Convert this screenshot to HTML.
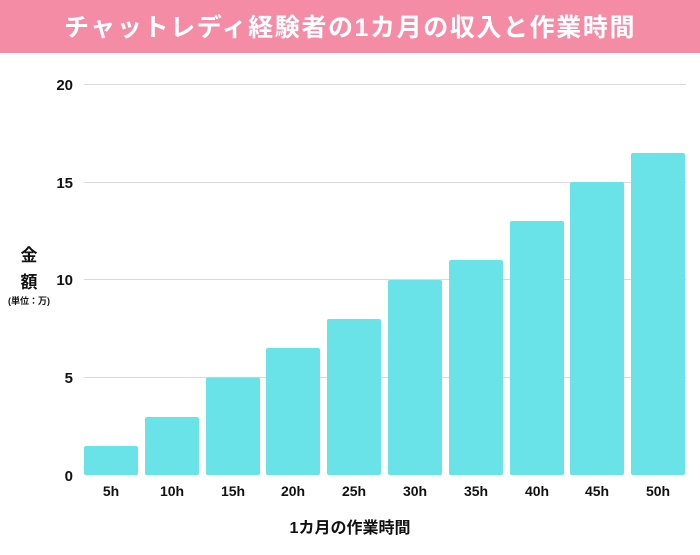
<!DOCTYPE html>
<html><head><meta charset="utf-8"><style>
body{margin:0;width:700px;height:550px;background:#fff;font-family:"Liberation Sans","Noto Sans CJK JP",sans-serif;overflow:hidden}
</style></head><body>
<svg width="700" height="550" xmlns="http://www.w3.org/2000/svg" font-family="Liberation Sans, Noto Sans CJK JP, sans-serif">
<rect x="0" y="0" width="700" height="53" fill="#f48ca6"/>
<text x="350" y="36" text-anchor="middle" font-size="25" font-weight="bold" fill="#fff" letter-spacing="1.6">チャットレディ経験者の1カ月の収入と作業時間</text>
<g stroke="#d9d9d9" stroke-width="1">
<line x1="84" y1="84.5" x2="686" y2="84.5"/>
<line x1="84" y1="182.5" x2="686" y2="182.5"/>
<line x1="84" y1="279.5" x2="686" y2="279.5"/>
<line x1="84" y1="377.5" x2="686" y2="377.5"/>
</g>
<g font-size="15" font-weight="bold" fill="#111" text-anchor="end">
<text x="73" y="90">20</text><text x="73" y="188">15</text><text x="73" y="285">10</text><text x="73" y="383">5</text><text x="73" y="481">0</text>
</g>
<g fill="#6ae3e8">
<rect x="84" y="446" width="54" height="29" rx="2"/>
<rect x="145" y="417" width="54" height="58" rx="2"/>
<rect x="206" y="377.5" width="54" height="97.5" rx="2"/>
<rect x="266" y="348" width="54" height="127" rx="2"/>
<rect x="327" y="319" width="54" height="156" rx="2"/>
<rect x="388" y="280" width="54" height="195" rx="2"/>
<rect x="449" y="260" width="54" height="215" rx="2"/>
<rect x="510" y="221" width="54" height="254" rx="2"/>
<rect x="570" y="182" width="54" height="293" rx="2"/>
<rect x="631" y="153" width="54" height="322" rx="2"/>
</g>
<g font-size="14" font-weight="bold" fill="#111" text-anchor="middle">
<text x="111" y="496">5h</text><text x="172" y="496">10h</text><text x="233" y="496">15h</text><text x="293" y="496">20h</text><text x="354" y="496">25h</text><text x="415" y="496">30h</text><text x="476" y="496">35h</text><text x="537" y="496">40h</text><text x="597" y="496">45h</text><text x="658" y="496">50h</text>
</g>
<text x="350" y="533" text-anchor="middle" font-size="16" font-weight="bold" fill="#111">1カ月の作業時間</text>
<g font-weight="bold" fill="#111" text-anchor="middle">
<text x="29" y="261" font-size="17">金</text>
<text x="29" y="288" font-size="17">額</text>
<text x="29" y="304" font-size="9">(単位：万)</text>
</g>
</svg>
</body></html>
